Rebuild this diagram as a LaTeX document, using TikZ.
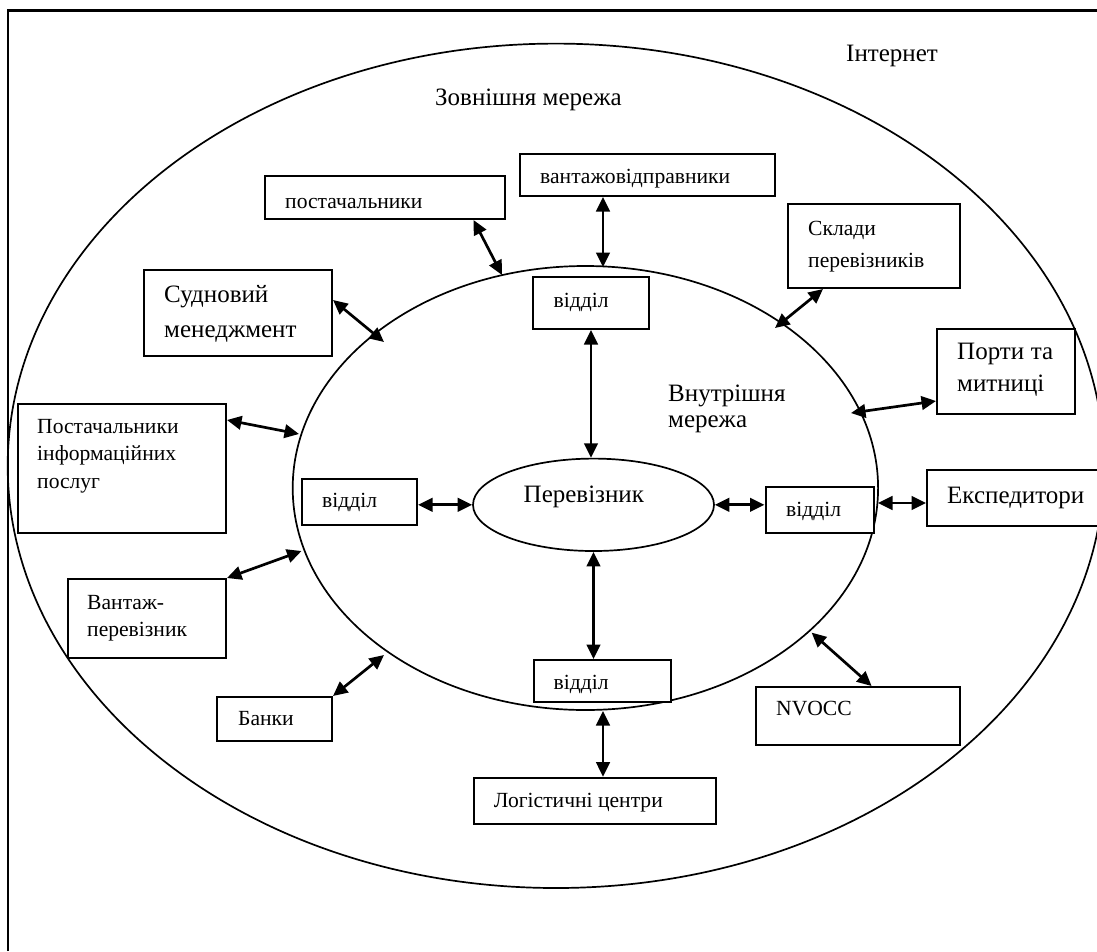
\documentclass[tikz,border=0pt]{standalone}
\usepackage{fontspec}
\setmainfont{Liberation Serif}
\usetikzlibrary{arrows.meta,calc,shapes.geometric}
\begin{document}
\begin{tikzpicture}[x=1pt,y=-1pt,
  box/.style={draw, line width=2pt, rectangle, inner sep=0pt, fill=white, anchor=north west},
  big/.style={font=\fontsize{25}{28}\selectfont, inner sep=0pt, anchor=base west},
  small/.style={font=\fontsize{21.6}{26}\selectfont, inner sep=0pt, anchor=base west},
  link/.style={line width=2.7pt, {Triangle[length=14.5pt,width=13.5pt]}-{Triangle[length=14.5pt,width=13.5pt]}},
  ring/.style={draw, line width=1.7pt, ellipse, inner sep=0pt}]
\useasboundingbox (0,0) rectangle (1097,951);
% frame
\draw[line width=2.2pt] (7.7,951) -- (7.7,10.5) -- (1097,10.5);
% ellipses
\node[ring, minimum width=1096.4pt, minimum height=844.4pt] (outer) at (555.9,465.8) {};
\node[ring, minimum width=585.4pt, minimum height=444pt] (inner) at (585.4,488) {};
\node[ring, minimum width=241pt, minimum height=92.4pt] (perev) at (593.5,504.8) {};
% boxes
\node[box, minimum width=240pt, minimum height=43pt] (post) at (264,175) {};
\node[box, minimum width=255pt, minimum height=42pt] (vantvid) at (519,153) {};
\node[box, minimum width=172pt, minimum height=84pt] (sklady) at (787,203) {};
\node[box, minimum width=138pt, minimum height=85pt] (porty) at (936,328) {};
\node[box, minimum width=188pt, minimum height=86pt] (sudn) at (143,269) {};
\node[box, minimum width=116pt, minimum height=52pt] (vtop) at (532,276) {};
\node[box, minimum width=208.5pt, minimum height=129.5pt] (postinf) at (16.5,402.5) {};
\node[box, minimum width=115pt, minimum height=46pt] (vleft) at (301,478) {};
\node[box, minimum width=158pt, minimum height=79pt] (vantper) at (67,578) {};
\node[box, minimum width=115pt, minimum height=44pt] (banky) at (216,696) {};
\node[box, minimum width=136.6pt, minimum height=42pt] (vbot) at (533,659) {};
\node[box, minimum width=242.4pt, minimum height=46.7pt] (logist) at (472.6,776.7) {};
\node[box, minimum width=204pt, minimum height=58pt] (nvocc) at (755,686) {};
\node[box, minimum width=108.1pt, minimum height=45.6pt] (vright) at (764.5,486) {};
\node[box, minimum width=180pt, minimum height=56pt] (exped) at (926,469) {};
% texts
\node[big] (tint) at (846,61) {Інтернет};
\node[big] (tzov) at (435,105) {Зовнішня мережа};
\node[big] (tvn1) at (668,401) {Внутрішня};
\node[big] (tvn2) at (668,427) {мережа};
\node[small] (tpost) at (285,208) {постачальники};
\node[small] (tvv) at (540,183) {вантажовідправники};
\node[small] (tsk1) at (808,235.5) {Склади};
\node[small] (tsk2) at (808,267) {перевізників};
\node[big] (tpo1) at (957,359) {\makebox[96pt][s]{Порти та}};
\node[big] (tpo2) at (957,391) {митниці};
\node[big] (tsu1) at (164,302) {Судновий};
\node[big] (tsu2) at (164,337) {менеджмент};
\node[small] (tvt) at (553.5,307) {відділ};
\node[small] (tpi1) at (37,433) {Постачальники};
\node[small] (tpi2) at (37,460) {інформаційних};
\node[small] (tpi3) at (37,488.5) {послуг};
\node[small] (tvl) at (322,507) {відділ};
\node[big] (tper) at (523.5,502) {Перевізник};
\node[small] (tvr) at (786,516) {відділ};
\node[big] (tex) at (947,503) {Експедитори};
\node[small] (tva1) at (87,609) {Вантаж-};
\node[small] (tva2) at (87,636) {перевізник};
\node[small] (tba) at (238,725) {Банки};
\node[small] (tvb) at (553.5,689.5) {відділ};
\node[small] (tnv) at (776,715.8) {NVOCC};
\node[small] (tlo) at (493.7,807.6) {Логістичні центри};
% connectors
\coordinate (a1) at (502,275);
\coordinate (a2) at (603,267);
\coordinate (a3) at (775,328);
\coordinate (a4) at (851,413);
\coordinate (a5) at (384,342);
\coordinate (a7) at (299,434);
\coordinate (a9) at (301.5,551);
\coordinate (a10) at (384,655);
\coordinate (a12) at (603,711);
\coordinate (a14) at (878,503);
\coordinate (a15) at (811.6,632.6);
\draw[link] ($(post.south west)+(209.5,0)$) -- (a1);
\draw[link] (vantvid.south -| a2) -- (a2);
\draw[link] ($(sklady.south west)+(36,0)$) -- (a3);
\draw[link] ($(porty.north west)+(0,73)$) -- (a4);
\draw[link] ($(sudn.north east)+(0,31)$) -- (a5);
\draw[link] (vtop.south) -- (vtop.south |- perev.north);
\draw[link] ($(postinf.north east)+(0,17.5)$) -- (a7);
\draw[link] (vleft.east |- perev.west) -- (perev.west);
\draw[link] (vantper.north east) -- (a9);
\draw[link] (banky.north east) -- (a10);
\draw[link] (perev.south) -- (perev.south |- vbot.north);
\draw[link] (a12) -- (a12 |- logist.north);
\draw[link] (perev.east) -- (vright.west |- perev.east);
\draw[link] (a14) -- (exped.west |- a14);
\draw[link] (a15) -- ($(nvocc.north west)+(116.6,0)$);
\end{tikzpicture}
\end{document}
